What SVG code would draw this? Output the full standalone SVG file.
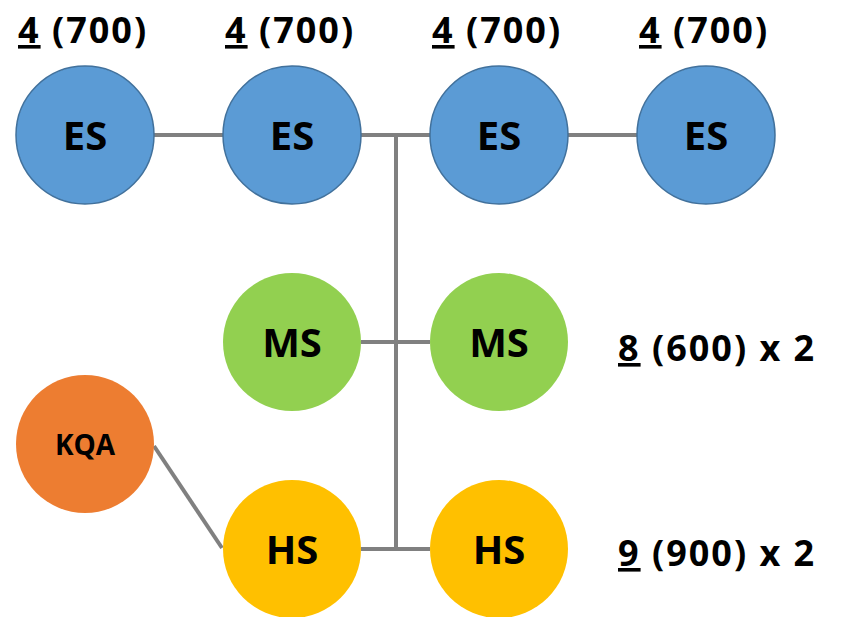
<svg xmlns="http://www.w3.org/2000/svg" width="842" height="617" viewBox="0 0 842 617">
<style>
.lbl{font-family:"Open Sans","Liberation Sans",sans-serif;font-weight:bold;font-size:36px;letter-spacing:2px;fill:#000}
.nt{font-family:"Open Sans","Liberation Sans",sans-serif;font-weight:bold;font-size:40px;fill:#000;text-anchor:middle}
.es{fill:#5B9BD5;stroke:#41719C;stroke-width:1.5}
.ms{fill:#92D050}
.hs{fill:#FFC000}
.kqa{fill:#ED7D31}
.c{stroke:#808080;stroke-width:4;fill:none}
</style>
<rect width="842" height="617" fill="#fff"/>
<g id="connectors">
<line class="c" x1="154" y1="135" x2="223" y2="135"/>
<line class="c" x1="361" y1="135" x2="430" y2="135"/>
<line class="c" x1="568" y1="135" x2="637" y2="135"/>
<line class="c" x1="396" y1="135" x2="396" y2="549"/>
<line class="c" x1="361" y1="342" x2="430" y2="342"/>
<line class="c" x1="361" y1="549" x2="430" y2="549"/>
<line class="c" x1="154" y1="446" x2="222" y2="548"/>
</g>
<g id="es1"><circle class="es" cx="85" cy="135" r="69"/><text class="nt" x="85" y="150">ES</text></g>
<g id="es2"><circle class="es" cx="292" cy="135" r="69"/><text class="nt" x="292" y="150">ES</text></g>
<g id="es3"><circle class="es" cx="499" cy="135" r="69"/><text class="nt" x="499" y="150">ES</text></g>
<g id="es4"><circle class="es" cx="706" cy="135" r="69"/><text class="nt" x="706" y="150">ES</text></g>
<g id="ms1"><circle class="ms" cx="292" cy="342" r="69"/><text class="nt" x="292" y="357">MS</text></g>
<g id="ms2"><circle class="ms" cx="499" cy="342" r="69"/><text class="nt" x="499" y="357">MS</text></g>
<g id="hs1"><circle class="hs" cx="292" cy="549" r="69"/><text class="nt" x="292" y="564">HS</text></g>
<g id="hs2"><circle class="hs" cx="499" cy="549" r="69"/><text class="nt" x="499" y="564">HS</text></g>
<g id="kqa"><circle class="kqa" cx="85" cy="444" r="69"/><text class="nt" x="85" y="455" style="font-size:28px">KQA</text></g>
<g id="labels">
<text class="lbl" x="18" y="43"><tspan text-decoration="underline">4</tspan> (700)</text>
<text class="lbl" x="225" y="43"><tspan text-decoration="underline">4</tspan> (700)</text>
<text class="lbl" x="432" y="43"><tspan text-decoration="underline">4</tspan> (700)</text>
<text class="lbl" x="639" y="43"><tspan text-decoration="underline">4</tspan> (700)</text>
<text class="lbl" x="618" y="361"><tspan text-decoration="underline">8</tspan> (600) x 2</text>
<text class="lbl" x="618" y="566"><tspan text-decoration="underline">9</tspan> (900) x 2</text>
</g>
</svg>
